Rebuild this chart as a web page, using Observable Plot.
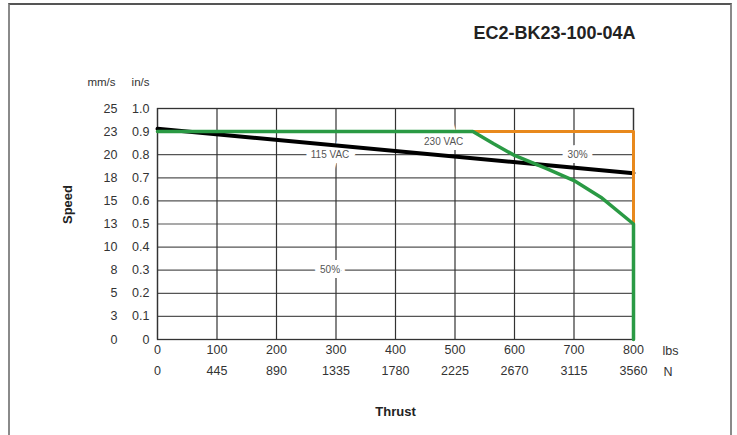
<!DOCTYPE html>
<html>
<head>
<meta charset="utf-8">
<script src="https://cdn.jsdelivr.net/npm/d3@7"></script>
<script src="https://cdn.jsdelivr.net/npm/@observablehq/plot@0.6"></script>
<style>
  html, body { margin: 0; padding: 0; background: #fff; }
  #border { position: absolute; left: 8px; top: 3px; width: 724px; height: 440px;
            border: 2px solid #8a8a8a; border-top-color: #555; box-sizing: border-box; }
  #chart { position: absolute; left: 0; top: 0; }
</style>
</head>
<body>
<div id="border"></div>
<div id="chart"></div>
<script>
// Tick values and labels
const inTicks = [0, 0.1, 0.2, 0.3, 0.4, 0.5, 0.6, 0.7, 0.8, 0.9, 1.0];
const inLabels = ["0", "0.1", "0.2", "0.3", "0.4", "0.5", "0.6", "0.7", "0.8", "0.9", "1.0"];
const mmLabels = ["0", "3", "5", "8", "10", "13", "15", "18", "20", "23", "25"];
const lbsTicks = [0, 100, 200, 300, 400, 500, 600, 700, 800];
const nLabels = ["0", "445", "890", "1335", "1780", "2225", "2670", "3115", "3560"];

// Series: thrust (lbs) and speed (in/s)
const thrust115 = [0, 800];
const speed115 = [0.912, 0.72];
const thrust30 = [0, 800, 800];
const speed30 = [0.9, 0.9, 0.5];
const thrust230 = [0, 530, 565, 600, 655, 700, 745, 800, 800];
const speed230 = [0.9, 0.9, 0.847, 0.797, 0.739, 0.688, 0.616, 0.5, 0];

// Curve labels
const labelNames = ["115 VAC", "230 VAC", "30%", "50%"];
const labelThrust = [290, 481, 706, 290];
const labelSpeed = [0.8, 0.857, 0.8, 0.3];

const title = "EC2-BK23-100-04A";

const chart = Plot.plot({
  width: 737,
  height: 435,
  marginLeft: 157,
  marginRight: 104,
  marginTop: 108,
  marginBottom: 96,
  style: { fontFamily: "'Liberation Sans', Arial, sans-serif", fontSize: "12.5px", color: "#333", background: "transparent" },
  x: { domain: [0, 800] },
  y: { domain: [0, 1] },
  marks: [
    Plot.gridY(inTicks, { stroke: "#555", strokeOpacity: 1, strokeWidth: 1.2 }),
    Plot.gridX(lbsTicks, { stroke: "#333", strokeOpacity: 1, strokeWidth: 1.2 }),
    Plot.frame({ stroke: "#333", strokeWidth: 1.3 }),
    Plot.axisY(inTicks, { tickSize: 0, tickPadding: 8, tickFormat: d => inLabels[Math.round(d * 10)], label: null }),
    Plot.axisY(inTicks, { tickSize: 0, tickPadding: 40, tickFormat: d => mmLabels[Math.round(d * 10)], label: null }),
    Plot.axisX(lbsTicks, { tickSize: 0, tickPadding: 6, label: null }),
    Plot.axisX(lbsTicks, { tickSize: 0, tickPadding: 27, tickFormat: d => nLabels[Math.round(d / 100)], label: null }),
    Plot.text(labelNames, { x: labelThrust, y: labelSpeed, text: labelNames, fill: "#555", fontSize: 10,
      stroke: "white", strokeWidth: 10, strokeLinejoin: "miter" }),
    Plot.line(speed115, { x: thrust115, y: speed115, stroke: "#000", strokeWidth: 4 }),
    Plot.line(speed30, { x: thrust30, y: speed30, stroke: "#e8891d", strokeWidth: 3 }),
    Plot.line(speed230, { x: thrust230, y: speed230, stroke: "#2a9a44", strokeWidth: 3.5 }),
    Plot.text([title], { frameAnchor: "top-right", lineAnchor: "middle", textAnchor: "end", dx: 2, dy: -75, fontSize: 18, fontWeight: "bold", fill: "#222" }),
    Plot.text(["mm/s"], { frameAnchor: "top-left", lineAnchor: "middle", textAnchor: "end", dx: -42, dy: -26, fontSize: 11.5 }),
    Plot.text(["in/s"], { frameAnchor: "top-left", lineAnchor: "middle", textAnchor: "end", dx: -8, dy: -26, fontSize: 11.5 }),
    Plot.text(["lbs"], { frameAnchor: "bottom-right", lineAnchor: "middle", textAnchor: "start", dx: 29, dy: 11 }),
    Plot.text(["N"], { frameAnchor: "bottom-right", lineAnchor: "middle", textAnchor: "start", dx: 30, dy: 32 }),
    Plot.text(["Thrust"], { frameAnchor: "bottom", lineAnchor: "middle", dy: 72, fontWeight: "bold", fontSize: 13, fill: "#222" }),
    Plot.text(["Speed"], { frameAnchor: "left", lineAnchor: "middle", dx: -90, rotate: -90, fontWeight: "bold", fontSize: 13, fill: "#222" })
  ]
});
document.getElementById("chart").appendChild(chart);
</script>
</body>
</html>
